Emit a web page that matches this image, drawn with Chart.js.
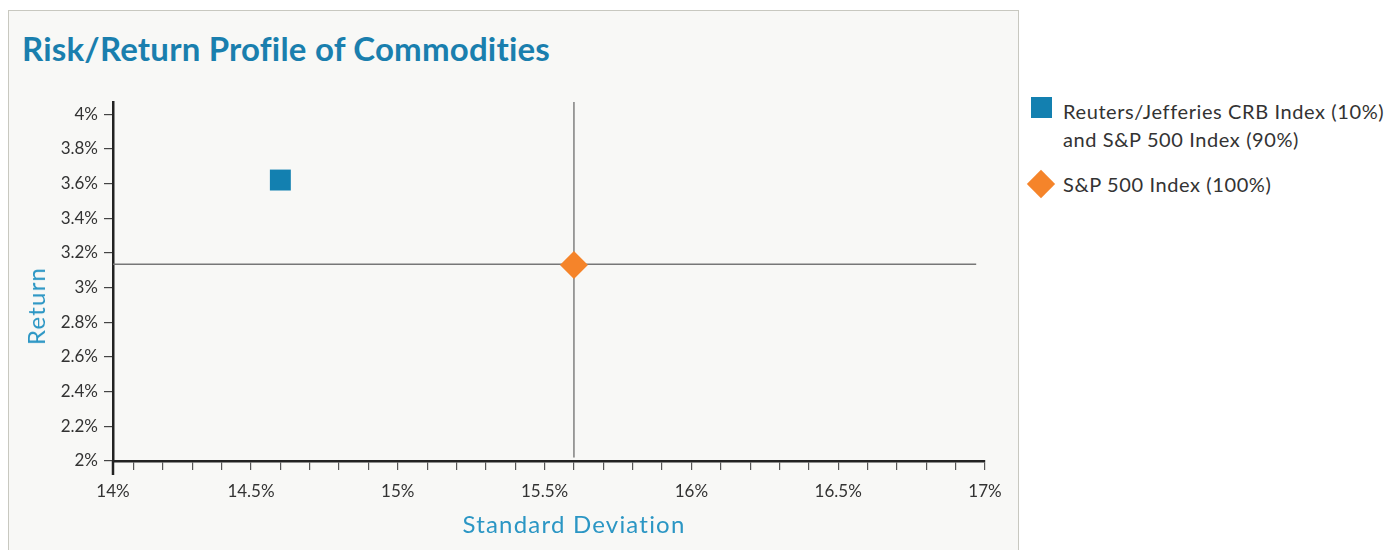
<!DOCTYPE html>
<html>
<head>
<meta charset="utf-8">
<script src="https://cdn.jsdelivr.net/npm/chart.js@4.4.0/dist/chart.umd.min.js"></script>
<style>
    body { margin: 0; width: 1391px; height: 550px; overflow: hidden; background: #fff; position: relative; font-family: Lato, sans-serif; }
    #panneau { position: absolute; left: 8px; top: 10px; width: 1009px; height: 550px; background: #f8f8f6; border: 1px solid #c8c8c0; }
    #titre { position: absolute; left: 22px; top: 32px; font-weight: bold; font-size: 33px; line-height: 1; color: #1a7fae; white-space: nowrap; letter-spacing: 0.2px; }
    #boiteGraphique { position: absolute; left: 0; top: 0; width: 1018px; height: 550px; }
    .titreAxe { position: absolute; color: #2b96c4; font-size: 24px; letter-spacing: 1.2px; line-height: 1; white-space: nowrap; }
    #titreY { left: 36px; top: 306px; transform: translate(-50%, -50%) rotate(-90deg); }
    #titreX { left: 574px; top: 524px; transform: translate(-50%, -50%); }
    #legende { position: absolute; left: 1028px; top: 97px; color: #333; font-size: 20px; letter-spacing: 0.6px; line-height: 28px; }
    .item { position: relative; padding-left: 35px; margin-bottom: 17px; white-space: nowrap; }
    .marqueur { position: absolute; }
</style>
</head>
<body>
<div id="panneau"></div>
<div id="titre">Risk/Return Profile of Commodities</div>
<div id="boiteGraphique"><canvas id="risqueChart" width="1018" height="550"></canvas></div>
<div class="titreAxe" id="titreY">Return</div>
<div class="titreAxe" id="titreX">Standard Deviation</div>
<div id="legende"></div>
<script>
// Séries
const nomsSeries = [
    ['Reuters/Jefferies CRB Index (10%)', 'and S&P 500 Index (90%)'],
    ['S&P 500 Index (100%)']
];
const ecartType = [14.6, 15.6];   // Standard Deviation (%)
const rendement = [3.62, 3.13];   // Return (%)
const couleurs = ['#1380b0', '#f5842a'];
const formes = ['rect', 'rectRot'];

// Lignes de repère passant par le S&P 500
const repereVx = [15.6, 15.6];
const repereVy = [2.02, 4.07];
const repereHx = [14.03, 16.97];
const repereHy = [3.135, 3.135];

// Axes
const xMin = 14.03, xMax = 17, pasX = 0.1;
const xEtiquettes = [14, 14.5, 15, 15.5, 16, 16.5, 17];
const yMin = 2, yMax = 4.07;
const yEtiquettes = [2, 2.2, 2.4, 2.6, 2.8, 3, 3.2, 3.4, 3.6, 3.8, 4];

function formatPct(v) {
    return (+v.toFixed(1)) + '%';
}

function construireLegende() {
    const legende = document.getElementById('legende');
    nomsSeries.forEach((lignes, i) => {
        const item = document.createElement('div');
        item.className = 'item';
        const m = document.createElement('div');
        m.className = 'marqueur';
        if (formes[i] === 'rect') {
            m.style.cssText = `left:3px;top:0px;width:21px;height:21px;background:${couleurs[i]}`;
        } else {
            m.style.cssText = `left:3px;top:4px;width:20px;height:20px;background:${couleurs[i]};transform:rotate(45deg)`;
        }
        item.appendChild(m);
        item.insertAdjacentHTML('beforeend', lignes.map(t => t.replace('&', '&amp;')).join('<br>'));
        legende.appendChild(item);
    });
}

// Prolonge l'axe Y sous l'axe X, comme sur l'original
const prolongeAxe = {
    id: 'prolongeAxe',
    afterDraw(chart) {
        const { ctx, chartArea } = chart;
        ctx.save();
        ctx.strokeStyle = '#222';
        ctx.lineWidth = 2.5;
        ctx.beginPath();
        ctx.moveTo(chartArea.left, chartArea.bottom);
        ctx.lineTo(chartArea.left, chartArea.bottom + 14);
        ctx.stroke();
        ctx.restore();
    }
};

function creerGraphique() {
    const policeTicks = { family: 'Lato', size: 17 };

    const jeux = nomsSeries.map((nom, i) => ({
        label: nom.join(' '),
        data: [{ x: ecartType[i], y: rendement[i] }],
        pointStyle: formes[i],
        pointRadius: formes[i] === 'rect' ? 14.8 : 14,
        backgroundColor: couleurs[i],
        borderWidth: 0,
        order: 0
    }));

    jeux.push({
        label: 'vertical',
        data: repereVx.map((x, i) => ({ x: x, y: repereVy[i] })),
        showLine: true, pointRadius: 0, borderColor: '#444', borderWidth: 1, order: 2
    });
    jeux.push({
        label: 'horizontal',
        data: repereHx.map((x, i) => ({ x: x, y: repereHy[i] })),
        showLine: true, pointRadius: 0, borderColor: '#777', borderWidth: 1.5, order: 2
    });

    new Chart(document.getElementById('risqueChart'), {
        type: 'scatter',
        data: { datasets: jeux },
        plugins: [prolongeAxe],
        options: {
            responsive: false,
            animation: false,
            events: [],
            layout: { padding: { left: 0, top: 102, right: 33, bottom: 0 } },
            plugins: { legend: { display: false }, tooltip: { enabled: false } },
            scales: {
                x: {
                    type: 'linear',
                    min: xMin,
                    max: xMax,
                    border: { color: '#222', width: 2.5 },
                    grid: { drawOnChartArea: false, tickLength: 9, color: '#555', lineWidth: 1.2 },
                    ticks: {
                        autoSkip: false,
                        maxRotation: 0,
                        padding: 11,
                        color: '#333',
                        font: policeTicks,
                        callback: function(v) {
                            const e = xEtiquettes.find(t => Math.abs(t - v) < 0.05);
                            return e !== undefined ? formatPct(e) : '';
                        }
                    },
                    afterBuildTicks: function(scale) {
                        const ticks = [{ value: xMin }];
                        for (let k = 1; 14 + k * pasX <= xMax + 1e-9; k++) {
                            ticks.push({ value: +(14 + k * pasX).toFixed(1) });
                        }
                        scale.ticks = ticks;
                    },
                    afterFit: function(scale) { scale.height = 89; }
                },
                y: {
                    type: 'linear',
                    min: yMin,
                    max: yMax,
                    border: { color: '#222', width: 2.5 },
                    grid: { drawOnChartArea: false, tickLength: 9, color: '#444', lineWidth: 1.2 },
                    ticks: {
                        padding: 6,
                        color: '#333',
                        font: policeTicks,
                        callback: v => formatPct(v)
                    },
                    afterBuildTicks: function(scale) {
                        scale.ticks = yEtiquettes.map(v => ({ value: v }));
                    },
                    afterFit: function(scale) { scale.width = 113; }
                }
            }
        }
    });
}

document.addEventListener('DOMContentLoaded', function() {
    construireLegende();
    creerGraphique();
});
</script>
</body>
</html>
